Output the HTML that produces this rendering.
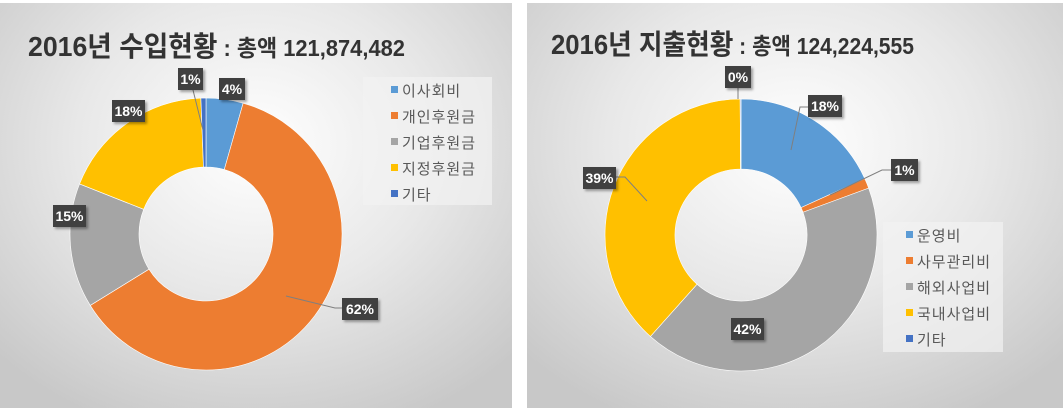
<!DOCTYPE html>
<html><head><meta charset="utf-8">
<style>
body{margin:0;width:1063px;height:410px;background:#fff;overflow:hidden;font-family:"Liberation Sans","Noto Sans CJK KR",sans-serif}
.panel{position:absolute;top:3px;height:405px;background:radial-gradient(ellipse 70% 75% at 50% 35%,#ffffff 0%,#e8e8e8 50%,#c8c8c8 100%)}
svg{position:absolute;left:0;top:0}
.t1{font-weight:bold;fill:#333}
</style></head><body>
<div class="panel" style="left:0;width:512px"></div>
<div class="panel" style="left:527px;width:536px"></div>
<svg id="s" width="1063" height="410">
<defs><filter id="sh" x="-20%" y="-20%" width="150%" height="160%"><feDropShadow dx="2" dy="2" stdDeviation="1.2" flood-color="#000" flood-opacity="0.35"/></filter></defs>
<text class="t1" x="28" y="56" textLength="377" lengthAdjust="spacingAndGlyphs"><tspan font-size="28">2016년 수입현황</tspan><tspan font-size="23"> : 총액 121,874,482</tspan></text>
<text class="t1" x="551" y="54" textLength="363" lengthAdjust="spacingAndGlyphs"><tspan font-size="28">2016년 지출현황</tspan><tspan font-size="23"> : 총액 124,224,555</tspan></text>
</svg>
<script>
const incomeCategories=["이사회비","개인후원금","기업후원금","지정후원금","기타"];
const incomeValues=[4.4,61.8,14.8,18.4,0.6];
const incomeLabels=["4%","62%","15%","18%","1%"];
const expenseCategories=["운영비","사무관리비","해외사업비","국내사업비","기타"];
const expenseValues=[18.2,1.2,42.2,38.3,0.1];
const expenseLabels=["18%","1%","42%","39%","0%"];
const colors=["#5b9bd5","#ed7d31","#a5a5a5","#ffc000","#4472c4"];
const NS="http://www.w3.org/2000/svg";
const svg=document.getElementById('s');
function mk(t,a){const e=document.createElementNS(NS,t);for(const k in a)e.setAttribute(k,a[k]);svg.appendChild(e);return e;}
function pt(cx,cy,r,f){const a=f*2*Math.PI;return [cx+r*Math.sin(a),cy-r*Math.cos(a)];}
function donut(cx,cy,R,r,vals,cats,name){
  const tot=vals.reduce((a,b)=>a+b,0);let acc=0;
  vals.forEach((v,i)=>{
    const f0=acc/tot,f1=(acc+v)/tot;acc+=v;
    const [x0,y0]=pt(cx,cy,R,f0),[x1,y1]=pt(cx,cy,R,f1),[x2,y2]=pt(cx,cy,r,f1),[x3,y3]=pt(cx,cy,r,f0);
    const lg=(f1-f0)>0.5?1:0;
    const p=mk('path',{d:`M${x0},${y0}A${R},${R} 0 ${lg} 1 ${x1},${y1}L${x2},${y2}A${r},${r} 0 ${lg} 0 ${x3},${y3}Z`,fill:colors[i],stroke:'#fff','stroke-width':0.6});
    
    
  });
}
function label(x,y,w,txt,name){
  const r=mk('rect',{x:x,y:y,width:w,height:22,fill:'#404040',filter:'url(#sh)'});
  
  
  const t=mk('text',{x:x+w/2,y:y+16,'text-anchor':'middle','font-size':14,'font-weight':'bold',fill:'#fff'});
  t.textContent=txt;
  
  
}
function line(pts,name){
  const l=mk('polyline',{points:pts,fill:'none',stroke:'#7f7f7f','stroke-width':1});
  
  
}
function legend(x,y,w,h,cats,name){
  const b=mk('rect',{x:x,y:y,width:w,height:h,fill:'#f2f2f2','fill-opacity':0.7});
  
  
  cats.forEach((c,i)=>{
    const yy=y+13+i*26;
    const s=mk('rect',{x:x+tx0(name),y:yy-4,width:7,height:7,fill:colors[i]});
    
    
    const t=mk('text',{x:x+tx0(name)+11,y:yy+6,'font-size':15,fill:'#595959','letter-spacing':1});
    t.textContent=c;
    
    
  });
}
function tx0(n){return n.startsWith('income')?28:23;}
donut(206,234,136,67,incomeValues,incomeCategories,'income');
donut(741,235,136,66,expenseValues,expenseCategories,'expense');
line("193,90 203,130",'income-leader-etc');
line("286,296 335,308 342,308",'income-leader-personal');
label(219,78,26,incomeLabels[0],'income-label-board');
label(342,298,36,incomeLabels[1],'income-label-personal');
label(53,205,33,incomeLabels[2],'income-label-corporate');
label(112,100,33,incomeLabels[3],'income-label-designated');
label(178,68,25,incomeLabels[4],'income-label-etc');
legend(363,77,129,128,incomeCategories,'income-legend');
line("791,150 800,107 808,107",'expense-leader-operating');
line("830,195 882,170 891,170",'expense-leader-office');
line("616,177 625,177 647,201",'expense-leader-domestic');
line("738,88 738,99",'expense-leader-etc');
label(808,95,34,expenseLabels[0],'expense-label-operating');
label(891,159,27,expenseLabels[1],'expense-label-office');
label(731,318,33,expenseLabels[2],'expense-label-overseas');
label(583,167,33,expenseLabels[3],'expense-label-domestic');
label(725,66,26,expenseLabels[4],'expense-label-etc');
legend(883,222,120,130,expenseCategories,'expense-legend');
</script>
</body></html>
